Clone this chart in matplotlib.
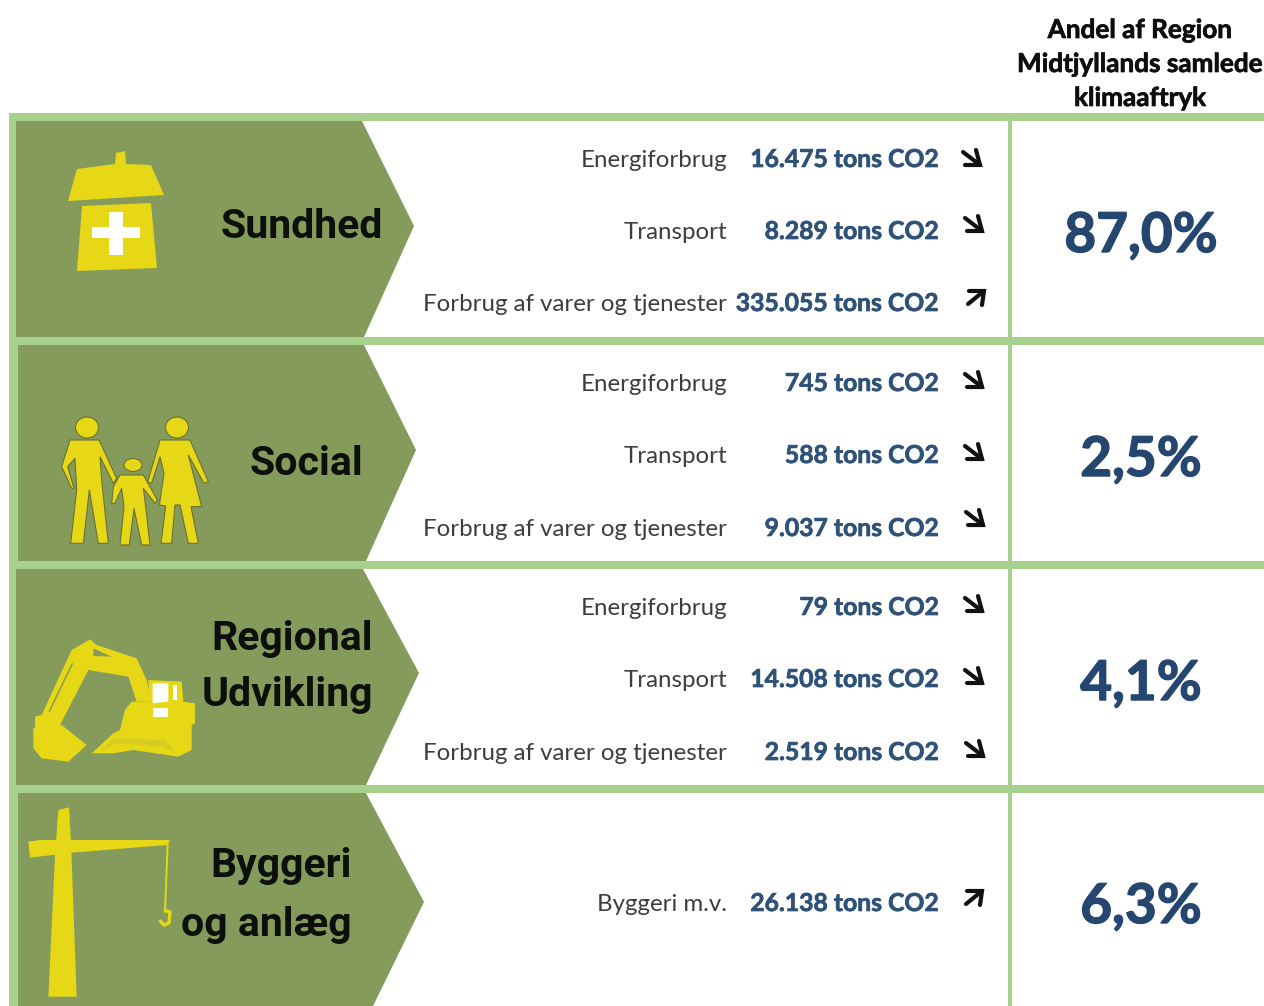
import matplotlib
matplotlib.use("Agg")
import matplotlib.pyplot as plt
import matplotlib.patheffects as pe
from matplotlib.patches import Polygon, Ellipse, Rectangle

W, H = 1264, 1006
RULE, BAND, YEL, BLUE, PCT, LAB, INK = "#a9d18e", "#859b5b", "#e6d717", "#2f5279", "#24466f", "#3d3d3d", "#0c0f0c"

header = ["Andel af Region", "Midtjyllands samlede", "klimaaftryk"]
categories = [["Sundhed"], ["Social"], ["Regional", "Udvikling"], ["Byggeri", "og anlæg"]]
shares = ["87,0%", "2,5%", "4,1%", "6,3%"]
labels = [["Energiforbrug", "Transport", "Forbrug af varer og tjenester"],
          ["Energiforbrug", "Transport", "Forbrug af varer og tjenester"],
          ["Energiforbrug", "Transport", "Forbrug af varer og tjenester"],
          ["Byggeri m.v."]]
tons = [["16.475", "8.289", "335.055"], ["745", "588", "9.037"], ["79", "14.508", "2.519"], ["26.138"]]
trends = [["down", "down", "up"], ["down", "down", "down"], ["down", "down", "down"], ["up"]]

# layout, in reference pixels
rule_tops = [113, 337, 561, 785]
line_ys = [[158, 230, 302], [382, 454, 527], [606, 678, 751], [902]]
arrow_ys = [[158, 224, 298], [380, 452, 518], [604, 676, 749], [898]]
arrow_xs = [[972, 974, 975], [974, 974, 975], [974, 974, 975], [973]]
band_shapes = [(16, 362, 414, 226, 364, 121, 337), (18, 364, 416, 450, 366, 345, 561),
               (16, 363, 419, 673, 366, 569, 785), (18, 366, 424, 902, 373, 793, 1006)]
share_ys = [234, 458, 682, 905]
title_rows = [[(383, 238)], [(363, 475)], [(373, 650), (373, 706)], [(352, 877), (352, 936)]]

fig = plt.figure(figsize=(W / 100, H / 100), dpi=100, facecolor="white")
ax = fig.add_axes([0, 0, 1, 1])
ax.set_xlim(0, W)
ax.set_ylim(H, 0)
ax.axis("off")

for t in rule_tops:
    ax.add_patch(Rectangle((9, t), W - 9, 8, color=RULE, lw=0))
ax.add_patch(Rectangle((9, 113), 9, H - 113, color=RULE, lw=0))
ax.add_patch(Rectangle((1008, 113), 4, H - 113, color=RULE, lw=0))

for (x0, xt, xp, ym, xb, y0, y1) in band_shapes:
    ax.add_patch(Polygon([(x0, y0), (xt, y0), (xp, ym), (xb, y1), (x0, y1)], color=BAND, lw=0))


def poly(points, color=YEL, **kw):
    ax.add_patch(Polygon(points, closed=True, facecolor=color, edgecolor="none", lw=0, **kw))


# hospital icon
poly([(68, 201), (77, 169), (115, 164), (116, 153), (125, 151), (126, 164), (151, 165), (164, 195)])
poly([(82, 206), (151, 203), (157, 268), (77, 271)])
ax.add_patch(Rectangle((92, 227), 48, 11, color="white", lw=0))
ax.add_patch(Rectangle((109, 212), 14, 43, color="white", lw=0))


def z2(pts, oy=400):
    return [(x / 3, oy + y / 3) for x, y in pts]


# family icon
OUT = "#6d7030"
for pts in (
    [(210,120),(297,120),(350,235),(340,250),(300,170),(305,240),(325,430),(295,430),(268,270),(250,430),(212,430),(230,270),(225,175),(203,200),(222,265),(215,265),(185,200)],
    [(360,225),(430,225),(472,300),(465,310),(430,265),(437,320),(450,435),(425,435),(402,325),(388,435),(360,435),(372,320),(365,265),(345,310),(335,310),(340,260)],
    [(480,120),(570,120),(625,245),(612,250),(565,165),(605,320),(573,320),(595,430),(565,430),(540,315),(525,315),(515,430),(483,430),(497,318),(478,315),(492,220),(480,170),(455,250),(443,245)],
):
    ax.add_patch(Polygon(z2(pts), facecolor=YEL, edgecolor=OUT, lw=0.8))
for cx, cy, w, h in [(87, 427.5, 23, 21), (133, 465, 18, 13), (177, 427.5, 23, 21)]:
    ax.add_patch(Ellipse((cx, cy), w, h, facecolor=YEL, edgecolor=OUT, lw=0.8))

# excavator icon
poly(z2([(100,985),(185,975),(260,1035),(205,1085),(125,1075),(100,1045)]))
poly(z2([(105,950),(125,945),(215,750),(270,718),(290,735),(410,775),(440,840),(455,905),(410,905),(385,830),(265,810),(175,985),(105,995)]))
poly(z2([(445,840),(545,845),(550,905),(585,910),(585,970),(575,975),(575,1050),(535,1070),(400,1050),(340,1060),(275,1060),(340,1000),(360,990),(375,930),(395,905),(450,905)]))
poly(z2([(280,745),(335,770),(280,768)]), color=BAND)
poly(z2([(145,935),(150,935),(220,790),(215,790)]), color=BAND)
poly(z2([(340,1015),(495,1020),(530,1060),(490,1040),(350,1030),(300,1055)]), color="#d8cb20")
poly(z2([(458,850),(505,850),(505,905),(458,910)]), color="white")
poly(z2([(458,925),(505,925),(505,950),(458,950)]), color="white")
poly(z2([(518,855),(530,855),(530,900),(518,900)]), color="white")

# crane icon
poly(z2([(175,90),(207,82),(213,185),(230,650),(145,650),(165,230)], 780))
poly(z2([(85,185),(120,180),(510,180),(500,195),(215,218),(90,233)], 780))
cable = z2([(503,190),(495,395)], 780)
hook = z2([(497,392),(510,395),(507,428),(492,436),(482,424)], 780)
ax.plot(*zip(*cable), color=YEL, lw=1.4)
ax.plot(*zip(*hook), color=YEL, lw=2.4)


def heavy(color, w):
    return [pe.withStroke(linewidth=w, foreground=color)]


# text
for txt, y in zip(header, [38, 72, 106]):
    ax.text(1140, y, txt, ha="center", va="baseline", fontfamily="Lato", fontweight="bold", fontsize=18.8,
            color=INK, path_effects=heavy(INK, 0.5))

for lines, places in zip(categories, title_rows):
    for txt, (x, y) in zip(lines, places):
        ax.text(x, y, txt, ha="right", va="baseline", fontfamily="Roboto", fontweight="bold", fontsize=29.5,
                color=INK)

for r, rows in enumerate(labels):
    for i, lab in enumerate(rows):
        y = line_ys[r][i]
        ax.text(727, y + 9, lab, ha="right", va="baseline", fontfamily="Lato", fontsize=17.3, color=LAB)
        ax.text(939, y + 9, f"{tons[r][i]} tons CO2", ha="right", va="baseline", fontfamily="Lato", fontweight="bold",
                fontsize=17.8, color=BLUE, path_effects=heavy(BLUE, 0.5))
        ay, ax_ = arrow_ys[r][i], arrow_xs[r][i]
        if trends[r][i] == "down":
            shaft = [(ax_ - 9, ay - 6), (ax_ + 8, ay + 7)]
            head = [(ax_ + 4, ay - 8), (ax_ + 8, ay + 7), (ax_ - 7, ay + 7)]
        else:
            shaft = [(ax_ - 7, ay + 6), (ax_ + 9, ay - 7)]
            head = [(ax_ - 6, ay - 7), (ax_ + 9, ay - 7), (ax_ + 7, ay + 7)]
        ax.plot(*zip(*shaft), color="#111111", lw=3, solid_capstyle="round")
        ax.plot(*zip(*head), color="#111111", lw=3, solid_capstyle="round", solid_joinstyle="miter")

for s, y in zip(shares, share_ys):
    ax.text(1141, y + 18, s, ha="center", va="baseline", fontfamily="Lato", fontweight="bold", fontsize=39.5,
            color=PCT, path_effects=heavy(PCT, 1.0))

fig.savefig("out.png", dpi=100, facecolor="white")
